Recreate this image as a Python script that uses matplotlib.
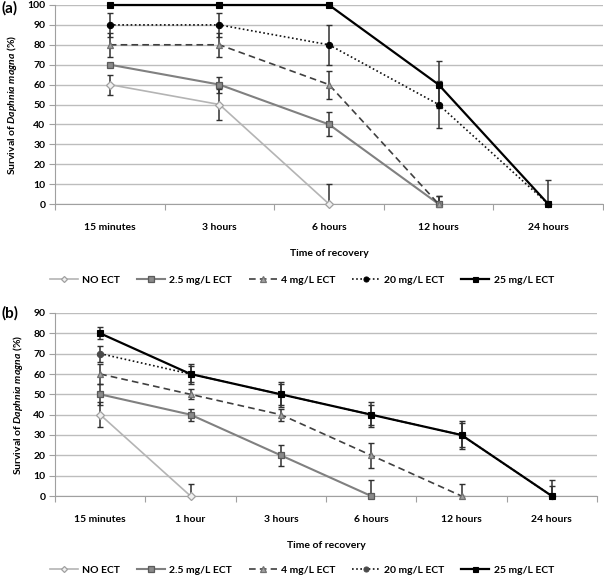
import numpy as np
import matplotlib
matplotlib.use("Agg")
import matplotlib.pyplot as plt
from matplotlib.lines import Line2D

plt.rcParams['font.family'] = ['Lato', 'DejaVu Sans']
plt.rcParams['font.weight'] = 'bold'
plt.rcParams['mathtext.fontset'] = 'custom'
plt.rcParams['mathtext.it'] = 'Lato:italic:bold'
plt.rcParams['mathtext.rm'] = 'Lato:bold'

nan = np.nan
series_names = ["NO ECT", "2.5 mg/L ECT", "4 mg/L ECT", "20 mg/L ECT", "25 mg/L ECT"]

# Panel (a)
cats_a = ["15 minutes", "3 hours", "6 hours", "12 hours", "24 hours"]
a_no = [60, 50, 0, nan, nan]
a_25 = [70, 60, 40, 0, nan]
a_4 = [80, 80, 60, 0, nan]
a_20 = [90, 90, 80, 50, 0]
a_25mg = [100, 100, 100, 60, 0]
ea_no = [5, 8, 10, nan, nan]
ea_25 = [0, 4, 6, 4, nan]
ea_4 = [6, 6, 7, 4, nan]
ea_20 = [6, 6, 10, 12, 0]
ea_25mg = [0, 0, 0, 12, 12]

# Panel (b)
cats_b = ["15 minutes", "1 hour", "3 hours", "6 hours", "12 hours", "24 hours"]
b_no = [40, 0, nan, nan, nan, nan]
b_25 = [50, 40, 20, 0, nan, nan]
b_4 = [60, 50, 40, 20, 0, nan]
b_20 = [70, 60, 50, 40, 30, 0]
b_25mg = [80, 60, 50, 40, 30, 0]
eb_no = [6, 6, nan, nan, nan, nan]
eb_25 = [5, 3, 5, 8, nan, nan]
eb_4 = [5, 2.5, 3, 6, 6, nan]
eb_20 = [4, 4, 5, 5, 6, 5]
eb_25mg = [3, 5, 6, 6, 7, 8]

styles = [
    dict(color='#b4b4b4', ls='-', lw=1.2, marker='D', ms=3.8, mfc='#f0f0f0', mec='#a0a0a0', mew=0.9),
    dict(color='#808080', ls='-', lw=1.5, marker='s', ms=4.8, mfc='#8a8a8a', mec='#5a5a5a', mew=0.9),
    dict(color='#404040', ls=(0, (4, 2.5)), lw=1.2, marker='^', ms=5, mfc='#a0a0a0', mec='#707070', mew=0.9),
    dict(color='#111111', ls=(0, (1, 1.5)), lw=1.2, marker='o', ms=4.5, mfc='#111111', mec='#111111', mew=0.8),
    dict(color='#000000', ls='-', lw=1.6, marker='s', ms=4.5, mfc='#000000', mec='#000000', mew=0.8),
]

fig = plt.figure(figsize=(6.04, 5.77), dpi=100)

def draw(ax, cats, data, errs, ymax, circ_color):
    x = np.arange(len(cats))
    for i, (vals, err) in enumerate(zip(data, errs)):
        st = dict(styles[i])
        if i == 3:
            st['mfc'] = circ_color
            st['mec'] = circ_color
        vals = np.array(vals, float)
        err = np.array(err, float)
        lower = np.minimum(err, vals)
        ax.errorbar(x, vals, yerr=[lower, err], fmt='none', ecolor='#303030',
                    elinewidth=1.1, capsize=2.5, capthick=1.0, zorder=2, clip_on=False)
        ax.plot(x, vals, clip_on=False, zorder=3 + i, **st)
    ax.set_xlim(-0.5, len(cats) - 0.5)
    ax.set_ylim(0, ymax)
    ax.set_yticks(np.arange(0, ymax + 1, 10))
    ax.set_xticks(x)
    ax.set_xticklabels(cats)
    ax.set_xticks(np.arange(len(cats) + 1) - 0.5, minor=True)
    ax.tick_params(axis='x', which='major', length=0, pad=14, labelsize=7.5)
    ax.tick_params(axis='x', which='minor', length=4, color='#a0a0a0', width=0.8)
    ax.tick_params(axis='y', length=4, color='#a0a0a0', width=0.8, labelsize=7.5, pad=3)
    ax.grid(axis='y', color='#bdbdbd', lw=1.0)
    ax.set_axisbelow(True)
    for s in ['top', 'right']:
        ax.spines[s].set_visible(False)
    for s in ['left', 'bottom']:
        ax.spines[s].set_color('#a0a0a0')
        ax.spines[s].set_linewidth(0.8)
    ax.set_xlabel('Time of recovery', fontsize=7.5, fontweight='bold', labelpad=12)
    ax.set_ylabel(r'Survival of $\it{Daphnia\ magna}$ (%)', fontsize=7.5, fontweight='bold', labelpad=6)

def legend(fig, y, circ_color):
    handles = []
    for i, st in enumerate(styles):
        st = dict(st)
        if i == 3:
            st['mfc'] = circ_color
            st['mec'] = circ_color
        st['ms'] = st['ms'] * 0.8
        handles.append(Line2D([], [], **st))
    fig.legend(handles, series_names, loc='center', bbox_to_anchor=(0.5, y), ncol=5,
               frameon=False, handlelength=2.7, columnspacing=1.6,
               handletextpad=0.4, prop={'weight': 'bold', 'size': 7.5})

ax1 = fig.add_axes([55/604, 1 - 204/577, (603 - 55)/604, (204 - 5)/577])
draw(ax1, cats_a, [a_no, a_25, a_4, a_20, a_25mg], [ea_no, ea_25, ea_4, ea_20, ea_25mg], 100, '#000000')
legend(fig, 1 - 280/577, '#000000')

ax2 = fig.add_axes([55/604, 1 - 496/577, (597 - 55)/604, (496 - 313)/577])
draw(ax2, cats_b, [b_no, b_25, b_4, b_20, b_25mg], [eb_no, eb_25, eb_4, eb_20, eb_25mg], 90, '#4a4a4a')
legend(fig, 1 - 570/577, '#4a4a4a')

fig.text(2/604, 1 - 8/577, '(a)', fontsize=11, fontweight='bold', va='center', ha='left')
fig.text(2/604, 1 - 313/577, '(b)', fontsize=11, fontweight='bold', va='center', ha='left')

fig.savefig('out.png', dpi=100)
